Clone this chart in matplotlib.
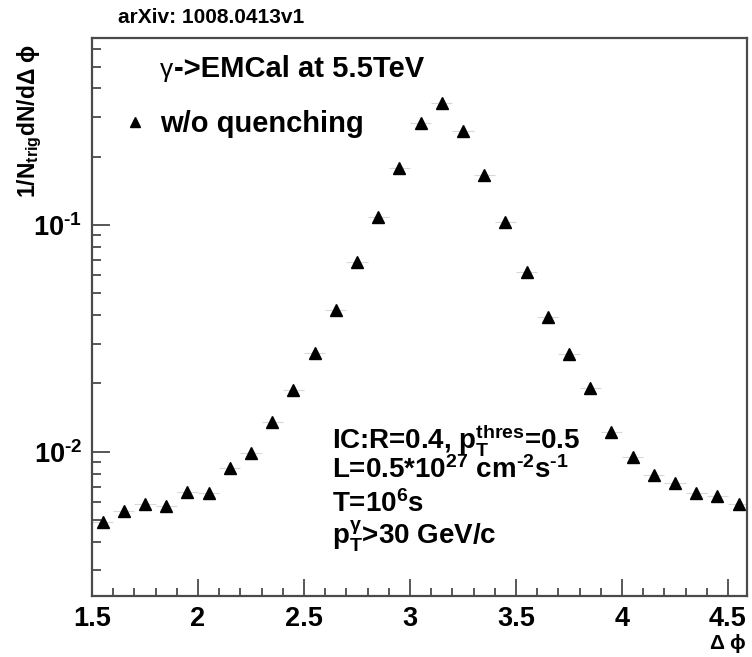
import math
import matplotlib
matplotlib.use("Agg")
import matplotlib.pyplot as plt
from matplotlib.ticker import MultipleLocator, LogLocator, FuncFormatter, NullFormatter

plt.rcParams['font.family'] = ['Liberation Sans', 'DejaVu Sans']
plt.rcParams['font.weight'] = 'bold'
plt.rcParams['mathtext.fontset'] = 'custom'
plt.rcParams['mathtext.rm'] = 'Liberation Sans:bold'
plt.rcParams['mathtext.it'] = 'Liberation Sans:bold'
plt.rcParams['mathtext.bf'] = 'Liberation Sans:bold'

# photon-hadron azimuthal correlation, no quenching
dphi = [1.55, 1.65, 1.75, 1.85, 1.95, 2.05, 2.15, 2.25, 2.35, 2.45, 2.55,
        2.65, 2.75, 2.85, 2.95, 3.05, 3.15, 3.25, 3.35, 3.45, 3.55, 3.65,
        3.75, 3.85, 3.95, 4.05, 4.15, 4.25, 4.35, 4.45, 4.55]
yield_noq = [0.00491, 0.00549, 0.00586, 0.00578, 0.00662, 0.00655, 0.00845,
             0.00984, 0.01355, 0.0187, 0.0273, 0.0422, 0.0689, 0.108, 0.178,
             0.281, 0.344, 0.261, 0.166, 0.1035, 0.0622, 0.0394, 0.0270,
             0.0191, 0.0122, 0.00951, 0.00789, 0.00726, 0.00655, 0.00638,
             0.00591]
bin_half = 0.05


def sup(s):
    # superscript with a short hyphen instead of the math minus
    return r'$^{\mathregular{%s}}$' % s.replace('-', r'\text{-}')


def log_label(v, pos):
    e = int(round(math.log10(v)))
    return r'$\mathbf{10^{%s}}$' % str(e).replace('-', r'\text{-}')


fig = plt.figure(figsize=(7.52, 6.57), dpi=100)
ax = fig.add_axes([0.1223, 0.0928, 0.8711, 0.8494])

ax.errorbar(dphi, yield_noq, xerr=bin_half, fmt='none', ecolor='#d8d8d8',
            elinewidth=0.8, capsize=0, zorder=2)
ax.plot(dphi, yield_noq, ls='none', marker='^', ms=8.5, color='black', zorder=3)

ax.set_yscale('log')
ax.set_xlim(1.5, 4.59)
ax.set_ylim(0.00231, 0.668)

ax.xaxis.set_major_locator(MultipleLocator(0.5))
ax.xaxis.set_minor_locator(MultipleLocator(0.1))
ax.xaxis.set_major_formatter(FuncFormatter(lambda v, p: '%g' % v))
ax.yaxis.set_major_locator(LogLocator(base=10))
ax.yaxis.set_minor_locator(LogLocator(base=10, subs=range(2, 10)))
ax.yaxis.set_major_formatter(FuncFormatter(log_label))
ax.yaxis.set_minor_formatter(NullFormatter())

frame = '#4a4a4a'
for s in ax.spines.values():
    s.set_color(frame)
    s.set_linewidth(1.6)
ax.tick_params(which='both', direction='in', color=frame, width=1.3,
               top=False, right=False, labelsize=19.5)
ax.tick_params(axis='x', which='major', length=12, pad=7)
ax.tick_params(axis='x', which='minor', length=6)
ax.tick_params(axis='y', which='major', length=13, pad=7)
ax.tick_params(axis='y', which='minor', length=6.5)

fig.text(0.157, 0.974, 'arXiv: 1008.0413v1', fontsize=15, fontweight='bold',
         ha='left', va='center')
fig.text(0.040, 0.934, r'1/N$_{\mathregular{trig}}$dN/d$\Delta$ $\phi$',
         rotation=90, fontsize=16.5, ha='center', va='top')
fig.text(0.993, 0.020, r'$\Delta$ $\phi$', fontsize=15, ha='right', va='center')

# legend drawn by hand, ROOT style
fig.text(0.213, 0.883, 'γ', fontsize=19, fontweight='normal', ha='left',
         va='baseline')
fig.text(0.232, 0.883, '->EMCal at 5.5TeV', fontsize=21, ha='left',
         va='baseline')
fig.lines.append(plt.Line2D([0.180], [0.814], ls='none', marker='^', ms=7,
                            color='black', transform=fig.transFigure))
fig.text(0.213, 0.799, 'w/o quenching', fontsize=21, ha='left', va='baseline')

labels = ['IC:R=0.4, p' + r'$_{\mathregular{T}}^{\mathregular{thres}}$' + '=0.5',
          'L=0.5*10' + sup('27') + ' cm' + sup('-2') + 's' + sup('-1'),
          'T=10' + sup('6') + 's',
          'p' + r'$_{\mathregular{T}}^{\mathregular{\gamma}}$' + '>30 GeV/c']
ys = [0.318, 0.2725, 0.2207, 0.1705]
for t, y in zip(labels, ys):
    fig.text(0.442, y, t, fontsize=20, ha='left', va='baseline')

fig.savefig('out.png', dpi=100)
